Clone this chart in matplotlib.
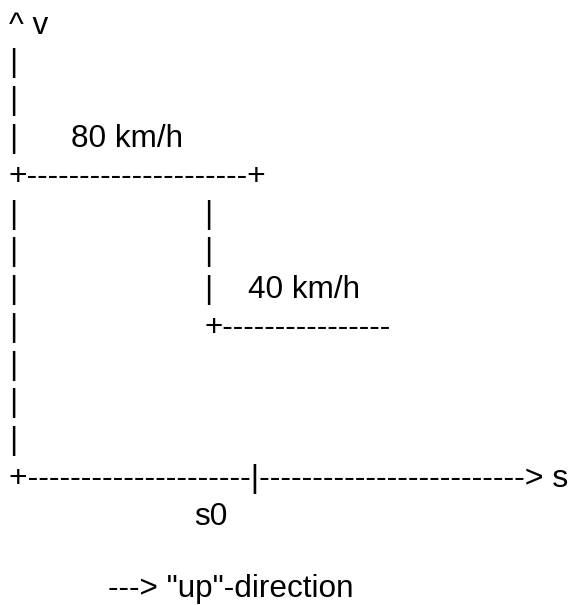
import matplotlib
matplotlib.use("Agg")
import matplotlib.pyplot as plt

# Text content of the ASCII diagram, one entry per row (pieces placed separately)
row_texts = [
    ["^ v"],
    ["|"],
    ["|"],
    ["|", "80 km/h"],
    ["+" + "-" * 21 + "+"],
    ["|", "|"],
    ["|", "|"],
    ["|", "|", "40 km/h"],
    ["|", "+" + "-" * 16],
    ["|"],
    ["|"],
    ["|"],
    ["+" + "-" * 21 + "|" + "-" * 25 + "> s"],
    ["s0"],
    ["---> \"up\"-direction"],
]

# Layout: horizontal origin (pixels) of each piece, row baselines, font sizes
row_x = [
    [9], [9], [9],
    [9, 71],
    [9],
    [9, 204], [9, 204],
    [9, 204, 247.5],
    [9, 205],
    [9], [9], [9],
    [9],
    [194.5],
    [107.5],
]
y0, dy = 33.5, 37.8
row_y = [y0 + i * dy for i in range(14)] + [597]
row_fs = [22.7] * 15
row_fs[4] = 22.97
row_fs[12] = 23.0

W, H = 572, 605
fig = plt.figure(figsize=(W / 100, H / 100), dpi=100)
ax = fig.add_axes([0, 0, 1, 1])
ax.set_xlim(0, W)
ax.set_ylim(H, 0)
ax.axis("off")

for texts, xs, y, fs in zip(row_texts, row_x, row_y, row_fs):
    for s, x in zip(texts, xs):
        ax.text(x, y, s, fontsize=fs, family="Liberation Sans",
                ha="left", va="baseline", color="black")

fig.savefig("out.png", dpi=100)
